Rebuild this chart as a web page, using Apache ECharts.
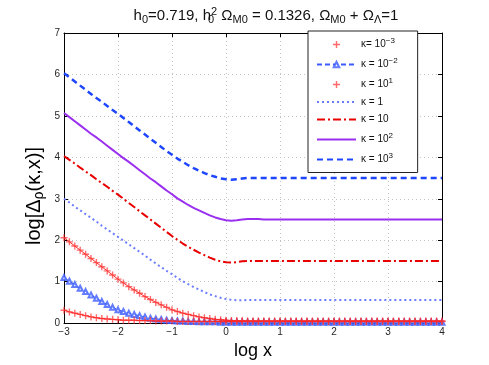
<!DOCTYPE html>
<html>
<head>
<meta charset="utf-8">
<script src="https://cdn.jsdelivr.net/npm/echarts@6/dist/echarts.min.js"></script>
<style>
  html, body { margin: 0; padding: 0; background: #fff; }
  #chart { width: 489px; height: 365px; }
</style>
</head>
<body>
<div id="chart"></div>
<script>
  // log x sample positions
  const logX = [
    -3.0, -2.9, -2.8, -2.7, -2.6, -2.5, -2.4, -2.3, -2.2, -2.1,
    -2.0, -1.9, -1.8, -1.7, -1.6, -1.5, -1.4, -1.3, -1.2, -1.1,
    -1.0, -0.9, -0.8, -0.7, -0.6, -0.5, -0.4, -0.3, -0.2, -0.1,
    0.0, 0.1, 0.2, 0.3, 0.4, 0.5, 0.6, 0.7, 0.8, 0.9,
    1.0, 1.1, 1.2, 1.3, 1.4, 1.5, 1.6, 1.7, 1.8, 1.9,
    2.0, 2.1, 2.2, 2.3, 2.4, 2.5, 2.6, 2.7, 2.8, 2.9,
    3.0, 3.1, 3.2, 3.3, 3.4, 3.5, 3.6, 3.7, 3.8, 3.9,
    4.0
  ]
  // kappa = 1e-3
  const kM3 = [
    0.31, 0.27, 0.24, 0.21, 0.18, 0.15, 0.13, 0.11, 0.10, 0.09,
    0.08, 0.07, 0.07, 0.07, 0.06, 0.06, 0.06, 0.05, 0.05, 0.05,
    0.05, 0.04, 0.04, 0.04, 0.04, 0.04, 0.04, 0.04, 0.04, 0.04,
    0.04, 0.04, 0.04, 0.04, 0.04, 0.04, 0.04, 0.04, 0.04, 0.04,
    0.04, 0.04, 0.04, 0.04, 0.04, 0.04, 0.04, 0.04, 0.04, 0.04,
    0.04, 0.04, 0.04, 0.04, 0.04, 0.04, 0.04, 0.04, 0.04, 0.04,
    0.04, 0.04, 0.04, 0.04, 0.04, 0.04, 0.04, 0.04, 0.04, 0.04,
    0.04
  ]
  // kappa = 1e-2
  const kM2 = [
    1.10, 1.01, 0.93, 0.84, 0.76, 0.68, 0.60, 0.52, 0.45, 0.38,
    0.32, 0.28, 0.24, 0.21, 0.18, 0.15, 0.12, 0.10, 0.09, 0.07,
    0.06, 0.05, 0.05, 0.04, 0.04, 0.03, 0.03, 0.03, 0.03, 0.02,
    0.02, 0.02, 0.02, 0.02, 0.02, 0.02, 0.02, 0.02, 0.02, 0.02,
    0.02, 0.02, 0.02, 0.02, 0.02, 0.02, 0.02, 0.02, 0.02, 0.02,
    0.02, 0.02, 0.02, 0.02, 0.02, 0.02, 0.02, 0.02, 0.02, 0.02,
    0.02, 0.02, 0.02, 0.02, 0.02, 0.02, 0.02, 0.02, 0.02, 0.02,
    0.02
  ]
  // kappa = 1e-1 (labelled 10^1 in the original legend)
  const kM1 = [
    2.06, 1.96, 1.86, 1.76, 1.66, 1.56, 1.46, 1.36, 1.26, 1.16,
    1.06, 0.97, 0.88, 0.80, 0.72, 0.64, 0.57, 0.50, 0.44, 0.38,
    0.32, 0.28, 0.24, 0.21, 0.18, 0.15, 0.13, 0.11, 0.09, 0.08,
    0.07, 0.06, 0.06, 0.06, 0.05, 0.05, 0.05, 0.05, 0.05, 0.05,
    0.05, 0.05, 0.05, 0.05, 0.05, 0.05, 0.05, 0.05, 0.05, 0.05,
    0.05, 0.05, 0.05, 0.05, 0.05, 0.05, 0.05, 0.05, 0.05, 0.05,
    0.05, 0.05, 0.05, 0.05, 0.05, 0.05, 0.05, 0.05, 0.05, 0.05,
    0.05
  ]
  // kappa = 1
  const k0 = [
    3.00, 2.91, 2.81, 2.72, 2.63, 2.54, 2.45, 2.35, 2.26, 2.17,
    2.08, 1.99, 1.90, 1.81, 1.72, 1.63, 1.53, 1.44, 1.35, 1.26,
    1.18, 1.09, 1.01, 0.94, 0.87, 0.81, 0.75, 0.69, 0.65, 0.61,
    0.58, 0.56, 0.55, 0.55, 0.56, 0.56, 0.56, 0.56, 0.56, 0.56,
    0.56, 0.56, 0.56, 0.56, 0.56, 0.56, 0.56, 0.56, 0.56, 0.56,
    0.56, 0.56, 0.56, 0.56, 0.56, 0.56, 0.56, 0.56, 0.56, 0.56,
    0.56, 0.56, 0.56, 0.56, 0.56, 0.56, 0.56, 0.56, 0.56, 0.56,
    0.56
  ]
  // kappa = 10
  const k1 = [
    4.03, 3.94, 3.85, 3.75, 3.66, 3.57, 3.47, 3.38, 3.29, 3.19,
    3.10, 3.00, 2.90, 2.80, 2.70, 2.60, 2.50, 2.40, 2.30, 2.20,
    2.10, 2.01, 1.92, 1.84, 1.77, 1.70, 1.64, 1.58, 1.53, 1.49,
    1.47, 1.46, 1.47, 1.49, 1.50, 1.50, 1.50, 1.50, 1.50, 1.50,
    1.50, 1.50, 1.50, 1.50, 1.50, 1.50, 1.50, 1.50, 1.50, 1.50,
    1.50, 1.50, 1.50, 1.50, 1.50, 1.50, 1.50, 1.50, 1.50, 1.50,
    1.50, 1.50, 1.50, 1.50, 1.50, 1.50, 1.50, 1.50, 1.50, 1.50,
    1.50
  ]
  // kappa = 100
  const k2 = [
    5.07, 4.97, 4.87, 4.77, 4.67, 4.57, 4.48, 4.38, 4.28, 4.18,
    4.08, 3.98, 3.89, 3.79, 3.69, 3.59, 3.49, 3.40, 3.30, 3.20,
    3.11, 3.01, 2.93, 2.85, 2.78, 2.72, 2.66, 2.60, 2.55, 2.51,
    2.48, 2.47, 2.48, 2.50, 2.51, 2.51, 2.51, 2.50, 2.50, 2.50,
    2.50, 2.50, 2.50, 2.50, 2.50, 2.50, 2.50, 2.50, 2.50, 2.50,
    2.50, 2.50, 2.50, 2.50, 2.50, 2.50, 2.50, 2.50, 2.50, 2.50,
    2.50, 2.50, 2.50, 2.50, 2.50, 2.50, 2.50, 2.50, 2.50, 2.50,
    2.50
  ]
  // kappa = 1000
  const k3 = [
    6.03, 5.93, 5.83, 5.73, 5.63, 5.53, 5.43, 5.34, 5.24, 5.14,
    5.05, 4.95, 4.85, 4.75, 4.65, 4.55, 4.45, 4.35, 4.25, 4.15,
    4.06, 3.97, 3.89, 3.81, 3.74, 3.68, 3.62, 3.57, 3.53, 3.49,
    3.47, 3.46, 3.47, 3.49, 3.50, 3.50, 3.50, 3.50, 3.50, 3.50,
    3.50, 3.50, 3.50, 3.50, 3.50, 3.50, 3.50, 3.50, 3.50, 3.50,
    3.50, 3.50, 3.50, 3.50, 3.50, 3.50, 3.50, 3.50, 3.50, 3.50,
    3.50, 3.50, 3.50, 3.50, 3.50, 3.50, 3.50, 3.50, 3.50, 3.50,
    3.50
  ]

  const FONT = '"Liberation Sans", Arial, sans-serif'
  const PLUS = 'path://M4,0H6V4H10V6H6V10H4V6H0V4H4Z'
  const LEGEND_TEXT = {
    kM3: 'κ= 10{sup|−3}',
    kM2: 'κ = 10{sup|−2}',
    kM1: 'κ = 10{sup|1}',
    k0: 'κ = 1',
    k1: 'κ = 10',
    k2: 'κ = 10{sup|2}',
    k3: 'κ = 10{sup|3}'
  }

  function pairs(ys) {
    return logX.map((x, i) => [x, ys[i]])
  }
  function minusSign(v) {
    return String(v).replace('-', '\u2212')
  }

  const axisCommon = {
    axisLine: {onZero: false, lineStyle: {color: '#000', width: 1}},
    axisTick: {inside: true, length: 4, lineStyle: {color: '#000'}}
  }
  const noSymbol = {itemStyle: {opacity: 0}}

  let chart = echarts.init(document.getElementById('chart'), null, {renderer: 'canvas'})
  chart.setOption({
    animation: false,
    backgroundColor: '#fff',
    textStyle: {fontFamily: FONT},
    grid: {left: 64, top: 33, right: 47, bottom: 40.5, containLabel: false},
    graphic: [
      {
        type: 'text', x: 266, y: 16,
        style: {
          text: 'h{sub|0}=0.719, h{subz|0}{sup|2} Ω{sub|M0} = 0.1326, Ω{sub|M0} + Ω{sub|Λ}=1',
          font: '15px ' + FONT, fill: '#111',
          align: 'center', verticalAlign: 'middle', textAlign: 'center', textVerticalAlign: 'middle',
          rich: {
            sub: {fontSize: 11, fontFamily: FONT, padding: [8, 0, 0, 0]},
            subz: {fontSize: 11, fontFamily: FONT, padding: [8, 0, 0, 0], width: 0},
            sup: {fontSize: 11, fontFamily: FONT, padding: [0, 0, 8, 0]}
          }
        }
      },
      {
        type: 'text', x: 34, y: 196, rotation: Math.PI / 2,
        style: {
          text: 'log[Δ{sub|ρ}(κ,x)]',
          font: '20px ' + FONT, fill: '#000',
          align: 'center', verticalAlign: 'middle', textAlign: 'center', textVerticalAlign: 'middle',
          rich: {
            sub: {fontSize: 14, fontFamily: FONT, padding: [11, 0, 0, 0]}
          }
        }
      }
    ],
    legend: {
      orient: 'vertical',
      left: 308,
      top: 31,
      padding: [6, 20, 8, 8],
      itemWidth: 39,
      itemHeight: 7,
      itemGap: 7.5,
      backgroundColor: '#fff',
      borderColor: '#222',
      borderWidth: 1,
      borderRadius: 0,
      data: [
        {name: 'kM3', icon: PLUS},
        {name: 'kM2'},
        {name: 'kM1', icon: PLUS},
        {name: 'k0', ...noSymbol},
        {name: 'k1', ...noSymbol},
        {name: 'k2', ...noSymbol},
        {name: 'k3', ...noSymbol}
      ],
      formatter: name => LEGEND_TEXT[name],
      textStyle: {
        fontSize: 10, fontFamily: FONT, color: '#111',
        rich: {
          sup: {fontSize: 8, fontFamily: FONT, padding: [0, 0, 7, 0], color: '#111'}
        }
      }
    },
    xAxis: [
      {
        type: 'value', min: -3, max: 4, interval: 1,
        name: 'log x', nameLocation: 'middle', nameGap: 9,
        nameTextStyle: {fontSize: 18, color: '#000', fontFamily: FONT},
        ...axisCommon,
        axisLabel: {fontSize: 10, color: '#262626', margin: 4, formatter: minusSign},
        splitLine: {show: true, lineStyle: {color: '#c4c4c4', type: [1, 3]}}
      },
      {
        type: 'value', position: 'top', min: -3, max: 4, interval: 1,
        ...axisCommon,
        axisLabel: {show: false},
        splitLine: {show: false}
      }
    ],
    yAxis: [
      {
        type: 'value', min: 0, max: 7, interval: 1,
        ...axisCommon,
        axisLabel: {fontSize: 10, color: '#262626', margin: 4},
        splitLine: {show: true, lineStyle: {color: '#c4c4c4', type: [1, 3]}}
      },
      {
        type: 'value', position: 'right', min: 0, max: 7, interval: 1,
        ...axisCommon,
        axisLabel: {show: false},
        splitLine: {show: false}
      }
    ],
    series: [
      {
        name: 'kM3', type: 'line', data: pairs(kM3), z: 5,
        symbol: PLUS, symbolSize: 7, showSymbol: true,
        itemStyle: {color: '#ff2a2a', opacity: 0.7},
        lineStyle: {color: '#ff2a2a', width: 1}
      },
      {
        name: 'kM2', type: 'line', data: pairs(kM2), z: 4,
        symbol: 'emptyTriangle', symbolSize: 5, showSymbol: true,
        itemStyle: {color: '#3d5cff', borderWidth: 1, opacity: 0.8},
        lineStyle: {color: '#3d5cff', width: 1, type: [5, 3]}
      },
      {
        name: 'kM1', type: 'line', data: pairs(kM1), z: 5,
        symbol: PLUS, symbolSize: 7, showSymbol: true,
        itemStyle: {color: '#ff2a2a', opacity: 0.7},
        lineStyle: {color: '#ff2a2a', width: 1}
      },
      {
        name: 'k0', type: 'line', data: pairs(k0), symbol: 'none',
        itemStyle: {color: '#6b7dff'},
        lineStyle: {color: '#6b7dff', width: 2, type: [2, 3]}
      },
      {
        name: 'k1', type: 'line', data: pairs(k1), symbol: 'none',
        itemStyle: {color: '#e80000'},
        lineStyle: {color: '#e80000', width: 2, type: [8, 3, 2, 3]}
      },
      {
        name: 'k2', type: 'line', data: pairs(k2), symbol: 'none',
        itemStyle: {color: '#9a2ff0'},
        lineStyle: {color: '#9a2ff0', width: 2, type: 'solid'}
      },
      {
        name: 'k3', type: 'line', data: pairs(k3), symbol: 'none',
        itemStyle: {color: '#1f46ff'},
        lineStyle: {color: '#1f46ff', width: 2.5, type: [6, 4]}
      }
    ]
  })
</script>
</body>
</html>
